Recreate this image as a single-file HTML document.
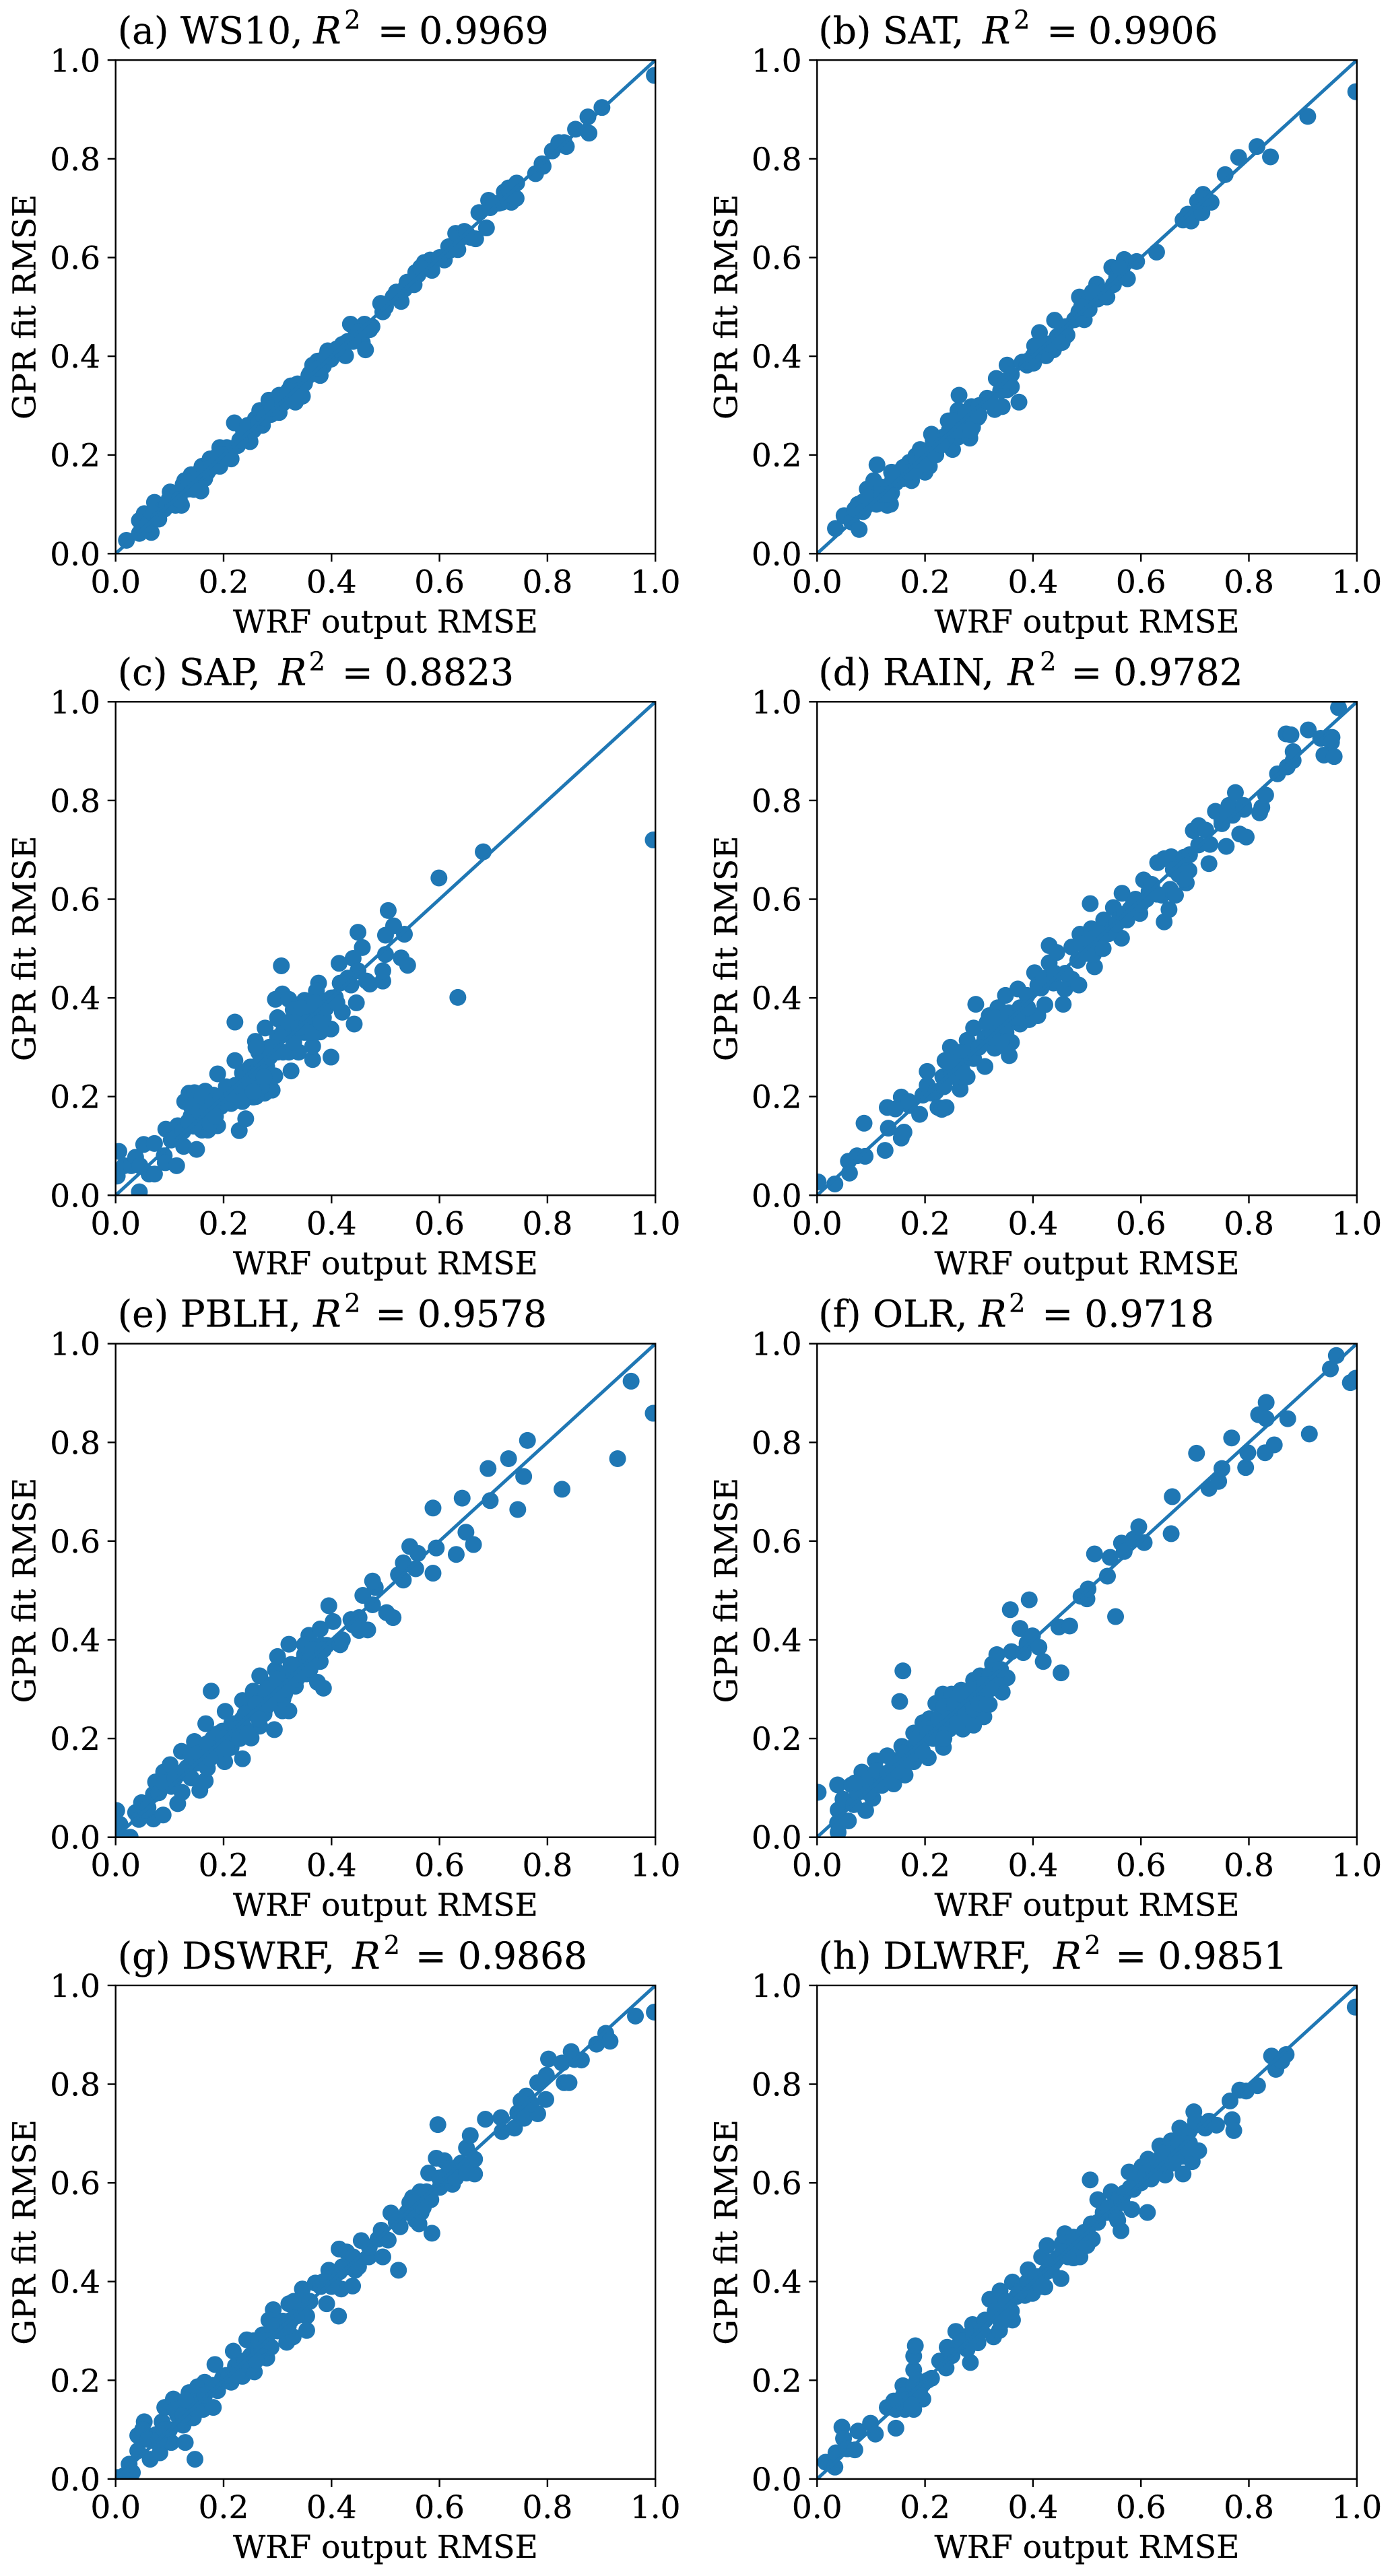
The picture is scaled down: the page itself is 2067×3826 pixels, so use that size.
<!DOCTYPE html>
<html lang="en">
<head>
<meta charset="utf-8">
<title>GPR fit vs WRF output RMSE</title>
<style>
html,body{margin:0;padding:0;background:#fff;}
svg{display:block;}
text{font-family:"DejaVu Serif","Liberation Serif",serif;fill:#000;stroke:#000;stroke-width:.3px;}
.title{font-size:55px;}
.label{font-size:47px;}
.tick{font-size:47px;}
.sup{font-size:38px;}
</style>
</head>
<body>
<svg xmlns="http://www.w3.org/2000/svg" width="2067" height="3826" viewBox="0 0 2067 3826">
<defs><clipPath id="axes-clip"><rect x="0" y="0" width="801.5" height="733"/></clipPath></defs>
<rect width="2067" height="3826" fill="#fff"/>

<g id="panel-a" transform="translate(171.7 89.3)">
<text class="title" y="-25"><tspan x="3">(a) WS10,</tspan><tspan x="293.5" font-style="italic">R</tspan><tspan x="339.6" dy="-22" class="sup">2</tspan><tspan x="389" dy="22">=</tspan><tspan x="450.6">0.9969</tspan></text>
<text class="label" x="400.7" y="850" text-anchor="middle">WRF output RMSE</text>
<text class="label" transform="translate(-119 366.5) rotate(-90)" text-anchor="middle">GPR fit RMSE</text>
</g>
<g id="panel-b" transform="translate(1213.3 89.3)">
<text class="title" y="-25"><tspan x="2">(b) SAT,</tspan><tspan x="245.7" font-style="italic">R</tspan><tspan x="291.8" dy="-22" class="sup">2</tspan><tspan x="341" dy="22">=</tspan><tspan x="402.7">0.9906</tspan></text>
<text class="label" x="400.7" y="850" text-anchor="middle">WRF output RMSE</text>
<text class="label" transform="translate(-119 366.5) rotate(-90)" text-anchor="middle">GPR fit RMSE</text>
</g>
<g id="panel-c" transform="translate(171.7 1042.3)">
<text class="title" y="-25"><tspan x="3">(c) SAP,</tspan><tspan x="242" font-style="italic">R</tspan><tspan x="287" dy="-22" class="sup">2</tspan><tspan x="336" dy="22">=</tspan><tspan x="399">0.8823</tspan></text>
<text class="label" x="400.7" y="850" text-anchor="middle">WRF output RMSE</text>
<text class="label" transform="translate(-119 366.5) rotate(-90)" text-anchor="middle">GPR fit RMSE</text>
</g>
<g id="panel-d" transform="translate(1213.3 1042.3)">
<text class="title" y="-25"><tspan x="2">(d) RAIN,</tspan><tspan x="283" font-style="italic">R</tspan><tspan x="331" dy="-22" class="sup">2</tspan><tspan x="377" dy="22">=</tspan><tspan x="440">0.9782</tspan></text>
<text class="label" x="400.7" y="850" text-anchor="middle">WRF output RMSE</text>
<text class="label" transform="translate(-119 366.5) rotate(-90)" text-anchor="middle">GPR fit RMSE</text>
</g>
<g id="panel-e" transform="translate(171.7 1995.7)">
<text class="title" y="-25"><tspan x="3">(e) PBLH,</tspan><tspan x="293.5" font-style="italic">R</tspan><tspan x="339.6" dy="-22" class="sup">2</tspan><tspan x="385.6" dy="22">=</tspan><tspan x="448">0.9578</tspan></text>
<text class="label" x="400.7" y="850" text-anchor="middle">WRF output RMSE</text>
<text class="label" transform="translate(-119 366.5) rotate(-90)" text-anchor="middle">GPR fit RMSE</text>
</g>
<g id="panel-f" transform="translate(1213.3 1995.7)">
<text class="title" y="-25"><tspan x="2">(f) OLR,</tspan><tspan x="240" font-style="italic">R</tspan><tspan x="285" dy="-22" class="sup">2</tspan><tspan x="334" dy="22">=</tspan><tspan x="397">0.9718</tspan></text>
<text class="label" x="400.7" y="850" text-anchor="middle">WRF output RMSE</text>
<text class="label" transform="translate(-119 366.5) rotate(-90)" text-anchor="middle">GPR fit RMSE</text>
</g>
<g id="panel-g" transform="translate(171.7 2948.9)">
<text class="title" y="-25"><tspan x="3">(g) DSWRF,</tspan><tspan x="351.5" font-style="italic">R</tspan><tspan x="398" dy="-22" class="sup">2</tspan><tspan x="445" dy="22">=</tspan><tspan x="508">0.9868</tspan></text>
<text class="label" x="400.7" y="850" text-anchor="middle">WRF output RMSE</text>
<text class="label" transform="translate(-119 366.5) rotate(-90)" text-anchor="middle">GPR fit RMSE</text>
</g>
<g id="panel-h" transform="translate(1213.3 2948.9)">
<text class="title" y="-25"><tspan x="2">(h) DLWRF,</tspan><tspan x="351" font-style="italic">R</tspan><tspan x="397" dy="-22" class="sup">2</tspan><tspan x="443" dy="22">=</tspan><tspan x="506">0.9851</tspan></text>
<text class="label" x="400.7" y="850" text-anchor="middle">WRF output RMSE</text>
<text class="label" transform="translate(-119 366.5) rotate(-90)" text-anchor="middle">GPR fit RMSE</text>
</g>
</svg>
<script>
const tickValues = [0, 0.2, 0.4, 0.6, 0.8, 1.0];
const tickLabels = ["0.0", "0.2", "0.4", "0.6", "0.8", "1.0"];
const diagonalX = [0, 1];
const diagonalY = [0, 1];

const ws10X = [.02,.044,.053,.044,.066,.072,.062,.078,.086,.101,.099,.111,.122,.128,.14,.136,.148,.158,.16,.165,.175,.181,.193,.206,.193,.214,.22,.226,.237,.249,.259,.272,.267,.284,.288,.303,.303,.325,.333,.346,.337,.358,.365,.379,.374,.393,.399,.42,.426,.435,.444,.457,.461,.463,.471,.491,.495,.514,.529,.535,.553,.556,.572,.583,.586,.609,.617,.634,.63,.646,.657,.667,.673,.687,.691,.694,.716,.72,.728,.733,.742,.743,.778,.792,.809,.821,.831,.835,.852,.877,.875,.901,.998,
.06,.09,.115,.13,.15,.17,.185,.2,.24,.255,.28,.295,.315,.35,.385,.41,.45,.5,.54,.56,.6,.64,.79,.71,
.07,.08,.095,.105,.118,.125,.135,.145,.155,.165,.178,.19,.205,.23,.245,.265,.275,.29,.31,.32,.34,.36,.375,.39,.43,.44,.475,.52,.565,.62,.65,.7];
const ws10Y = [.027,.067,.081,.041,.043,.104,.068,.073,.089,.125,.11,.098,.098,.148,.16,.131,.144,.127,.177,.152,.192,.177,.215,.215,.177,.192,.265,.219,.248,.227,.273,.26,.29,.311,.282,.286,.321,.34,.307,.319,.344,.361,.382,.361,.39,.411,.394,.424,.401,.465,.44,.428,.465,.413,.454,.507,.49,.52,.511,.536,.545,.57,.59,.595,.574,.595,.622,.616,.649,.653,.641,.638,.691,.66,.716,.701,.712,.733,.741,.712,.72,.751,.77,.785,.816,.833,.833,.825,.86,.852,.885,.904,.969,
.06,.09,.12,.13,.155,.165,.19,.2,.24,.25,.285,.3,.315,.345,.38,.415,.45,.5,.55,.565,.6,.64,.79,.71,
.08,.07,.1,.105,.11,.14,.145,.13,.165,.17,.175,.2,.195,.23,.26,.265,.275,.295,.305,.33,.33,.365,.375,.4,.43,.43,.46,.53,.58,.615,.65,.71];

const satX = [.034,.05,.064,.078,.076,.093,.089,.105,.111,.105,.122,.13,.136,.138,.138,.146,.159,.175,.171,.183,.191,.2,.208,.204,.212,.224,.233,.243,.251,.261,.263,.261,.27,.283,.286,.288,.298,.315,.329,.343,.332,.352,.36,.352,.36,.374,.38,.389,.401,.403,.412,.413,.424,.438,.44,.454,.463,.477,.485,.486,.495,.504,.504,.52,.518,.537,.549,.546,.569,.575,.565,.592,.629,.678,.687,.693,.713,.705,.715,.73,.756,.781,.815,.84,.909,.998,
.1,.115,.125,.12,.15,.165,.18,.19,.2,.215,.225,.24,.255,.27,.28,.29,.3,.34,.4,.43,.445,.53,.555,.72,.085,
.07,.085,.095,.11,.12,.13,.14,.15,.16,.17,.185,.195,.205,.22,.215,.23,.245,.25,.265,.275,.285,.3,.32,.35,.39,.41,.46,.49,.51,.56];
const satY = [.051,.077,.064,.049,.1,.131,.094,.148,.18,.106,.127,.098,.1,.123,.165,.144,.152,.148,.185,.198,.211,.165,.177,.202,.242,.215,.236,.269,.211,.236,.321,.29,.261,.234,.298,.256,.276,.315,.292,.298,.355,.332,.338,.382,.363,.307,.388,.382,.386,.421,.448,.415,.401,.413,.473,.428,.443,.474,.49,.52,.474,.495,.516,.516,.546,.52,.545,.58,.596,.557,.578,.592,.611,.676,.688,.674,.691,.714,.728,.712,.768,.803,.825,.804,.886,.936,
.12,.115,.11,.135,.15,.17,.165,.18,.19,.21,.225,.235,.25,.27,.28,.27,.3,.33,.4,.425,.44,.53,.56,.72,.105,
.09,.085,.115,.1,.12,.12,.15,.165,.175,.165,.19,.2,.185,.2,.23,.22,.25,.27,.25,.285,.25,.28,.31,.35,.39,.42,.46,.5,.53,.58];

const sapX = [.003,.006,.016,.029,.037,.045,.044,.062,.072,.052,.072,.09,.092,.113,.093,.103,.115,.126,.15,.128,.136,.146,.166,.14,.152,.16,.171,.189,.177,.189,.189,.156,.181,.206,.214,.221,.221,.229,.241,.222,.235,.243,.255,.259,.259,.28,.276,.29,.295,.277,.296,.309,.307,.303,.321,.321,.325,.317,.339,.329,.35,.365,.365,.379,.376,.372,.387,.399,.399,.407,.42,.442,.446,.416,.414,.436,.44,.449,.449,.457,.465,.471,.495,.495,.5,.5,.505,.515,.529,.535,.541,.599,.634,.681,.996,
.15,.16,.165,.17,.18,.195,.2,.225,.24,.25,.265,.27,.28,.27,.285,.3,.31,.33,.34,.35,.36,.37,.385,.355,.4,.43,.11,.125,.145,.26,.265,.24,
.135,.14,.15,.155,.16,.17,.175,.18,.185,.195,.205,.215,.23,.235,.245,.25,.255,.26,.27,.275,.285,.29,.3,.31,.32,.33,.34,.345,.355,.365,.37,.38,.39,.41,.3,.26];
const sapY = [.039,.089,.06,.06,.077,.06,.007,.043,.043,.103,.105,.08,.066,.06,.134,.112,.141,.099,.093,.19,.207,.208,.211,.161,.178,.132,.132,.141,.165,.186,.246,.149,.203,.203,.186,.273,.351,.131,.155,.223,.248,.219,.199,.312,.261,.277,.207,.213,.242,.339,.397,.408,.465,.356,.397,.29,.252,.327,.29,.376,.395,.275,.302,.331,.43,.414,.393,.337,.28,.401,.371,.347,.39,.43,.47,.426,.48,.455,.533,.502,.434,.428,.434,.455,.488,.527,.577,.546,.481,.529,.466,.643,.401,.696,.72,
.16,.18,.15,.19,.17,.18,.19,.2,.21,.23,.24,.22,.26,.28,.3,.32,.29,.33,.36,.33,.35,.37,.36,.385,.4,.44,.115,.13,.14,.2,.29,.25,
.15,.18,.195,.17,.2,.17,.145,.19,.16,.2,.22,.205,.22,.19,.23,.26,.21,.25,.27,.24,.28,.3,.29,.33,.35,.31,.34,.38,.35,.33,.39,.35,.38,.39,.36,.3];

const rainX = [.002,.033,.058,.06,.074,.089,.087,.126,.132,.13,.156,.161,.156,.171,.19,.196,.204,.204,.212,.224,.231,.239,.233,.237,.247,.253,.265,.261,.278,.278,.29,.311,.29,.294,.311,.319,.329,.335,.343,.352,.356,.36,.349,.372,.376,.376,.393,.389,.409,.422,.403,.409,.43,.43,.444,.438,.456,.459,.472,.485,.472,.483,.487,.508,.506,.514,.512,.528,.531,.549,.549,.564,.565,.574,.586,.598,.605,.615,.631,.643,.652,.639,.656,.643,.654,.664,.672,.684,.689,.68,.697,.707,.707,.728,.726,.738,.75,.758,.763,.775,.783,.795,.791,.82,.824,.831,.853,.871,.882,.882,.869,.878,.91,.933,.954,.953,.939,.958,.966,
.145,.25,.27,.26,.33,.34,.32,.35,.365,.52,.54,.56,.58,.59,.61,.5,.49,.415,.75,.77,.69,.66,.34,
.17,.22,.235,.245,.255,.265,.27,.28,.3,.315,.325,.33,.345,.355,.37,.39,.42,.44,.46,.5,.51,.525,.53,.555,.57,.6,.62,.63,.67,.68,.72,.76,.79];
const rainY = [.027,.023,.069,.045,.08,.079,.146,.091,.136,.178,.116,.128,.199,.182,.164,.203,.251,.223,.207,.178,.174,.178,.24,.273,.3,.261,.215,.277,.24,.314,.277,.261,.339,.387,.318,.364,.298,.38,.327,.347,.283,.31,.405,.418,.38,.347,.356,.405,.364,.386,.451,.426,.506,.471,.492,.43,.387,.418,.438,.426,.503,.476,.529,.54,.591,.463,.488,.5,.558,.583,.542,.521,.612,.558,.591,.571,.639,.616,.674,.554,.579,.608,.686,.682,.62,.608,.666,.633,.658,.685,.739,.749,.71,.711,.672,.778,.753,.707,.79,.816,.732,.726,.782,.775,.786,.811,.854,.868,.881,.899,.935,.933,.943,.926,.928,.918,.892,.889,.988,
.175,.25,.27,.29,.34,.36,.33,.33,.36,.52,.53,.56,.58,.6,.6,.5,.51,.42,.76,.77,.69,.66,.31,
.19,.21,.22,.27,.24,.26,.25,.29,.3,.35,.32,.36,.345,.37,.36,.38,.44,.45,.45,.49,.52,.53,.5,.55,.57,.59,.63,.61,.65,.64,.74,.77,.79];

const pblhX = [.002,.008,.004,.027,.037,.048,.043,.07,.088,.07,.074,.089,.101,.103,.115,.123,.122,.146,.132,.156,.166,.14,.167,.177,.165,.181,.202,.235,.203,.198,.214,.226,.235,.251,.267,.235,.255,.267,.294,.28,.296,.3,.309,.321,.321,.313,.333,.313,.337,.354,.358,.374,.385,.379,.379,.391,.362,.395,.403,.416,.436,.451,.451,.467,.458,.481,.476,.476,.502,.514,.524,.533,.533,.545,.556,.56,.588,.588,.594,.631,.642,.649,.663,.69,.694,.728,.745,.756,.763,.827,.93,.955,.996,
.19,.18,.21,.22,.24,.25,.26,.275,.29,.29,.3,.31,.32,.33,.34,.35,.36,.37,.38,.15,.16,.12,.055,.08,.275,.31,.17,.2,
.06,.09,.11,.13,.14,.155,.17,.175,.19,.2,.205,.215,.225,.23,.24,.245,.26,.265,.28,.285,.3,.305,.315,.325,.335,.345,.35,.36,.365,.385,.42,.44];
const pblhY = [.054,.026,.012,0,.05,.07,.036,.037,.045,.087,.112,.132,.147,.103,.068,.091,.174,.194,.141,.095,.114,.165,.23,.296,.174,.182,.153,.159,.255,.215,.182,.207,.277,.201,.225,.24,.296,.327,.218,.265,.339,.366,.256,.256,.391,.29,.306,.323,.347,.331,.409,.314,.302,.422,.356,.389,.372,.469,.437,.39,.441,.445,.419,.42,.49,.506,.519,.471,.455,.445,.532,.556,.521,.589,.544,.575,.667,.535,.586,.573,.687,.618,.593,.747,.682,.767,.664,.731,.804,.705,.767,.924,.859,
.19,.2,.21,.23,.22,.26,.25,.28,.28,.31,.3,.33,.31,.33,.35,.37,.36,.38,.39,.15,.16,.13,.055,.09,.25,.28,.14,.17,
.06,.11,.12,.13,.12,.17,.19,.16,.21,.2,.18,.23,.22,.2,.25,.21,.27,.24,.3,.27,.32,.29,.3,.35,.32,.33,.39,.34,.38,.38,.4,.43];

const olrX = [.002,.038,.039,.038,.039,.048,.058,.064,.09,.083,.068,.103,.108,.13,.142,.113,.163,.153,.159,.157,.179,.179,.206,.196,.234,.22,.233,.208,.245,.249,.27,.267,.27,.29,.309,.319,.29,.302,.325,.333,.352,.343,.358,.36,.382,.376,.393,.389,.399,.411,.419,.452,.448,.468,.489,.5,.502,.514,.538,.543,.553,.564,.569,.586,.596,.606,.656,.658,.703,.726,.744,.75,.768,.794,.798,.818,.83,.832,.832,.847,.872,.912,.951,.962,.988,.998,
.09,.1,.12,.14,.15,.165,.17,.19,.2,.21,.22,.23,.24,.25,.26,.27,.28,.285,.3,.31,.305,.32,.24,.26,.075,.33,
.07,.095,.11,.12,.13,.135,.15,.16,.17,.18,.185,.195,.205,.215,.225,.235,.235,.245,.255,.26,.265,.275,.28,.29,.295,.3,.31,.315,.32,.34];
const olrY = [.091,.106,.01,.029,.055,.077,.033,.106,.054,.132,.066,.079,.155,.165,.108,.116,.126,.275,.337,.184,.153,.211,.161,.232,.182,.271,.29,.24,.219,.29,.219,.298,.256,.227,.244,.269,.318,.327,.351,.37,.323,.294,.461,.376,.374,.423,.481,.393,.408,.385,.356,.333,.426,.428,.488,.483,.503,.574,.529,.567,.447,.596,.579,.604,.629,.597,.615,.69,.778,.707,.721,.747,.809,.749,.779,.856,.779,.881,.848,.795,.848,.817,.949,.976,.921,.93,
.11,.12,.12,.14,.15,.16,.18,.19,.2,.22,.21,.23,.25,.26,.25,.27,.26,.285,.29,.3,.28,.33,.22,.28,.09,.32,
.11,.09,.135,.105,.13,.115,.135,.17,.155,.17,.2,.175,.21,.2,.24,.2,.265,.24,.27,.23,.29,.25,.28,.26,.3,.27,.31,.27,.3,.34];

const dswrfX = [.004,.016,.031,.025,.041,.053,.041,.064,.082,.086,.091,.07,.103,.129,.147,.107,.115,.125,.136,.144,.162,.165,.152,.181,.189,.184,.198,.214,.218,.222,.235,.243,.257,.255,.28,.272,.288,.292,.284,.317,.321,.329,.325,.346,.354,.354,.37,.391,.395,.413,.418,.414,.428,.439,.444,.455,.469,.495,.486,.492,.505,.51,.524,.527,.551,.556,.562,.566,.564,.576,.584,.586,.597,.58,.594,.601,.609,.624,.613,.634,.65,.657,.665,.665,.685,.714,.716,.739,.745,.757,.751,.761,.782,.797,.782,.798,.802,.827,.831,.84,.844,.863,.891,.908,.916,.963,.998,
.05,.075,.1,.12,.14,.155,.17,.205,.23,.25,.265,.27,.3,.31,.335,.34,.38,.405,.43,.44,.415,.54,.55,.62,.64,.77,.85,
.06,.08,.09,.11,.125,.13,.15,.165,.18,.21,.225,.24,.26,.265,.28,.295,.32,.33,.36,.385,.4,.42,.45,.47,.52,.545,.57,.6,.63,.65];
const dswrfY = [.003,.007,.013,.03,.088,.116,.057,.04,.053,.116,.145,.078,.074,.074,.04,.162,.129,.109,.175,.124,.141,.196,.187,.145,.179,.232,.204,.196,.259,.229,.208,.282,.217,.28,.245,.292,.267,.343,.322,.277,.355,.288,.322,.385,.33,.301,.397,.355,.423,.33,.385,.466,.46,.391,.423,.483,.45,.45,.486,.504,.484,.539,.423,.511,.553,.524,.517,.54,.582,.582,.566,.498,.718,.62,.65,.591,.645,.597,.616,.624,.671,.696,.618,.648,.729,.732,.704,.711,.742,.731,.766,.776,.74,.769,.803,.818,.851,.843,.803,.803,.866,.849,.881,.903,.887,.938,.946,
.1,.09,.1,.14,.15,.16,.18,.21,.23,.25,.26,.27,.3,.32,.33,.36,.39,.41,.43,.45,.42,.54,.57,.63,.64,.76,.85,
.08,.08,.1,.14,.13,.16,.14,.17,.19,.21,.21,.24,.24,.28,.28,.31,.31,.36,.36,.4,.39,.43,.43,.47,.52,.56,.55,.61,.61,.62];

const dlwrfX = [.016,.033,.035,.046,.049,.056,.07,.076,.099,.108,.146,.13,.142,.159,.146,.163,.179,.179,.179,.179,.182,.196,.196,.212,.227,.239,.241,.257,.265,.284,.288,.278,.298,.311,.32,.327,.339,.338,.343,.362,.362,.385,.391,.399,.422,.416,.426,.434,.452,.446,.459,.454,.475,.487,.475,.5,.51,.508,.52,.506,.545,.537,.563,.557,.583,.578,.586,.612,.602,.619,.613,.635,.645,.656,.678,.672,.676,.695,.707,.689,.698,.701,.719,.726,.74,.765,.769,.772,.783,.795,.816,.842,.85,.861,.869,.997,
.17,.185,.16,.35,.37,.38,.41,.44,.47,.49,.53,.55,.56,.57,.6,.63,.65,.66,.69,.28,.27,.345,.4,.425,.59,.64,
.15,.165,.175,.18,.19,.205,.25,.27,.29,.305,.33,.34,.35,.36,.375,.39,.405,.415,.435,.455,.465,.495,.52,.54,.555,.565,.58,.61,.625,.64,.66,.67,.685];
const dlwrfY = [.034,.024,.053,.105,.082,.061,.059,.097,.113,.091,.103,.145,.158,.189,.141,.141,.141,.166,.221,.249,.27,.162,.192,.204,.239,.225,.267,.299,.276,.236,.313,.263,.276,.322,.364,.288,.381,.301,.347,.322,.399,.372,.424,.376,.389,.45,.473,.423,.406,.448,.497,.477,.448,.45,.49,.473,.486,.517,.566,.606,.582,.54,.503,.524,.546,.622,.587,.54,.633,.608,.648,.675,.616,.685,.618,.711,.654,.643,.665,.704,.744,.725,.711,.725,.717,.766,.728,.706,.788,.786,.797,.857,.83,.847,.86,.956,
.18,.2,.17,.36,.37,.39,.41,.44,.47,.48,.54,.55,.57,.58,.6,.62,.65,.67,.68,.29,.28,.32,.4,.42,.61,.64,
.155,.16,.15,.19,.18,.2,.25,.28,.29,.3,.34,.32,.36,.34,.38,.4,.41,.39,.44,.46,.45,.5,.52,.55,.53,.56,.59,.62,.62,.66,.64,.68,.67];

const panels = [
  ['panel-a', ws10X, ws10Y],
  ['panel-b', satX, satY],
  ['panel-c', sapX, sapY],
  ['panel-d', rainX, rainY],
  ['panel-e', pblhX, pblhY],
  ['panel-f', olrX, olrY],
  ['panel-g', dswrfX, dswrfY],
  ['panel-h', dlwrfX, dlwrfY]
];

const NS = 'http://www.w3.org/2000/svg';
const AXIS_W = 801.5;
const AXIS_H = 733;
const BLUE = '#1f77b4';
function sx(v) { return v * AXIS_W; }
function sy(v) { return AXIS_H - v * AXIS_H; }
function make(tag, parent, attrs) {
  const el = document.createElementNS(NS, tag);
  for (const k in attrs) el.setAttribute(k, attrs[k]);
  parent.appendChild(el);
  return el;
}
function drawPanel(id, xs, ys) {
  const root = document.getElementById(id);

  const plot = make('g', root, { 'clip-path': 'url(#axes-clip)' });
  
  

  const n = Math.min(xs.length, ys.length);
  for (let i = 0; i < n; i++) {
    const dot = make('circle', plot, { cx: sx(xs[i]), cy: sy(ys[i]), r: 12.5, fill: BLUE });
    
    
  }

  const diag = make('line', plot, {
    x1: sx(diagonalX[0]), y1: sy(diagonalY[0]),
    x2: sx(diagonalX[1]), y2: sy(diagonalY[1]),
    stroke: BLUE, 'stroke-width': 5
  });
  
  

  for (let i = 0; i < tickValues.length; i++) {
    const xt = make('line', root, { x1: sx(tickValues[i]), x2: sx(tickValues[i]), y1: AXIS_H, y2: AXIS_H + 12, stroke: '#000', 'stroke-width': 2.4 });
    
    

    const yt = make('line', root, { x1: -12, x2: 0, y1: sy(tickValues[i]), y2: sy(tickValues[i]), stroke: '#000', 'stroke-width': 2.4 });
    
    

    const xl = make('text', root, { class: 'tick', x: sx(tickValues[i]), y: AXIS_H + 58, 'text-anchor': 'middle' });
    xl.textContent = tickLabels[i];
    
    

    const yl = make('text', root, { class: 'tick', x: -22.7, y: sy(tickValues[i]) + 17, 'text-anchor': 'end' });
    yl.textContent = tickLabels[i];
    
    
  }

  const frame = make('rect', root, { x: 0, y: 0, width: AXIS_W, height: AXIS_H, fill: 'none', stroke: '#000', 'stroke-width': 2.4 });
  
  
}
panels.forEach(function (p) { drawPanel(p[0], p[1], p[2]); });
</script>
</body>
</html>
